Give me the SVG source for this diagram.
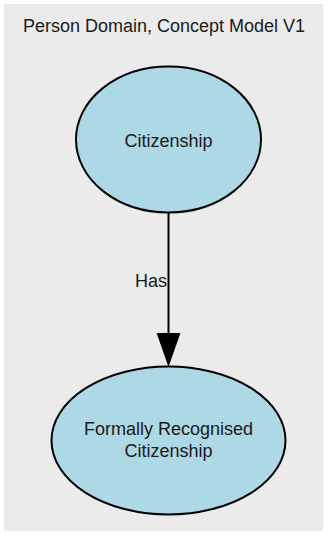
<svg xmlns="http://www.w3.org/2000/svg" width="327" height="535" viewBox="0 0 327 535">
<style>
.node ellipse{fill:#add8e6;stroke:#000;stroke-width:2}
text{font-family:"Liberation Sans",Arial,sans-serif;font-size:18px;fill:#1a1a1a}
.edge line{stroke:#000;stroke-width:2}
</style>
<rect x="0" y="0" width="327" height="535" fill="#fff"/>
<rect x="4" y="4" width="319" height="527" fill="#ebebeb"/>
<text x="164" y="31.5" text-anchor="middle">Person Domain, Concept Model V1</text>
<g id="edges" class="edge">
<line x1="168.5" y1="213" x2="168.5" y2="336"/>
<polygon points="158,334 179,334 168.5,364" fill="#000" stroke="#000" stroke-width="2"/>
<text x="167" y="287" text-anchor="end">Has</text>
</g>
<g id="citizenship" class="node">
<ellipse cx="168.5" cy="139.5" rx="92.5" ry="73"/>
<text x="168.5" y="147" text-anchor="middle">Citizenship</text>
</g>
<g id="formally" class="node">
<ellipse cx="168.5" cy="440.5" rx="117" ry="74"/>
<text x="168.5" y="435" text-anchor="middle">Formally Recognised</text>
<text x="168.5" y="456.5" text-anchor="middle">Citizenship</text>
</g>
</svg>
